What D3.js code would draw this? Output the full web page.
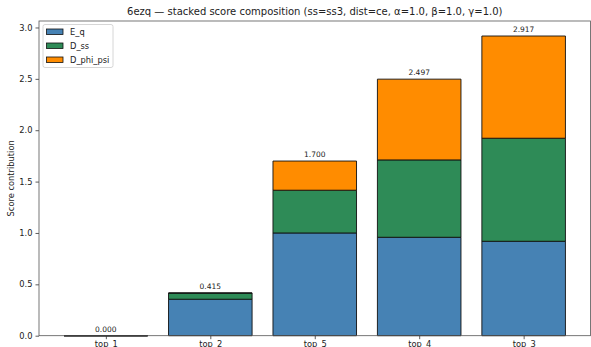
<!DOCTYPE html>
<html><head><meta charset="utf-8">
<script src="https://cdn.jsdelivr.net/npm/d3@7/dist/d3.min.js"></script>
<style>body{margin:0;background:#fff}svg{display:block}text{font-family:"DejaVu Sans",sans-serif}</style>
</head><body>
<script>
const categories = ["top_1","top_2","top_5","top_4","top_3"];
const E_q = [0.000, 0.355, 1.000, 0.958, 0.919];
const D_ss = [0.000, 0.060, 0.416, 0.753, 1.003];
const D_phi_psi = [0.000, 0.000, 0.284, 0.786, 0.995];
const totals = [0.000, 0.415, 1.700, 2.497, 2.917];
const yTicks = [0.0, 0.5, 1.0, 1.5, 2.0, 2.5, 3.0];
const seriesNames = ["E_q","D_ss","D_phi_psi"];
const colors = ["#4682b4","#2e8b57","#ff8c00"];
const title = "6ezq — stacked score composition (ss=ss3, dist=ce, α=1.0, β=1.0, γ=1.0)";

const W=591,H=347, L=39, R=590.5, T=21, B=335.7;
const svg=d3.select("body").append("svg").attr("width",W).attr("height",H);
const x=d3.scaleLinear().domain([-0.64,4.64]).range([L,R]);
const y=d3.scaleLinear().domain([0,3.063]).range([B,T]);
const table=categories.map((c,i)=>({cat:c,i,E_q:E_q[i],D_ss:D_ss[i],D_phi_psi:D_phi_psi[i]}));
const stack=d3.stack().keys(seriesNames)(table);
const bw=0.8;
stack.forEach((s,k)=>{
  svg.append("g").selectAll("path").data(s).join("path")
    .attr("d",d=>{const x0=x(d.data.i-bw/2),x1=x(d.data.i+bw/2),y0=y(d[0]),y1=y(d[1]);
      return `M${x0},${y0}H${x1}V${y1}H${x0}Z`;})
    .attr("fill",colors[k]).attr("stroke","#111").attr("stroke-width",0.9);
});
// value labels
svg.append("g").selectAll("text").data(totals).join("text")
  .attr("x",(d,i)=>x(i)).attr("y",d=>y(d)-4).attr("text-anchor","middle")
  .attr("font-size",7.5).attr("fill","#222").text(d=>d.toFixed(3));
// axes
const ya=svg.append("g").attr("transform",`translate(${L},0)`)
  .call(d3.axisLeft(y).tickValues(yTicks).tickFormat(d3.format(".1f")).tickSize(3.5).tickPadding(3));
const xa=svg.append("g").attr("transform",`translate(0,${B})`)
  .call(d3.axisBottom(x).tickValues(d3.range(categories.length)).tickFormat(i=>categories[i]).tickSize(3.5).tickPadding(2));
[ya,xa].forEach(a=>{a.select(".domain").remove();a.selectAll("text").attr("font-size",8.3).attr("fill","#222").attr("font-family","DejaVu Sans");a.selectAll("line").attr("stroke","#333").attr("stroke-width",0.8);});
svg.append("rect").attr("x",L).attr("y",T).attr("width",R-L).attr("height",B-T)
  .attr("fill","none").attr("stroke","#555").attr("stroke-width",0.8);
// title
svg.append("text").attr("x",(L+R)/2).attr("y",15).attr("text-anchor","middle")
  .attr("font-size",10).attr("fill","#222").text(title);
// y label
svg.append("text").attr("transform",`translate(14,${(T+B)/2}) rotate(-90)`).attr("text-anchor","middle")
  .attr("font-size",8.3).attr("fill","#222").text("Score contribution");
// legend
const lg=svg.append("g");
lg.append("rect").attr("x",43).attr("y",24.5).attr("width",70).attr("height",43).attr("rx",2)
  .attr("fill","#fff").attr("stroke","#ccc").attr("stroke-width",0.8);
seriesNames.forEach((n,k)=>{
  lg.append("rect").attr("x",46.5).attr("y",29+k*14).attr("width",16.5).attr("height",5.5)
    .attr("fill",colors[k]).attr("stroke","#111").attr("stroke-width",0.8);
  lg.append("text").attr("x",70).attr("y",35+k*14).attr("font-size",8.3).attr("fill","#222").text(n);
});
</script>
</body></html>
